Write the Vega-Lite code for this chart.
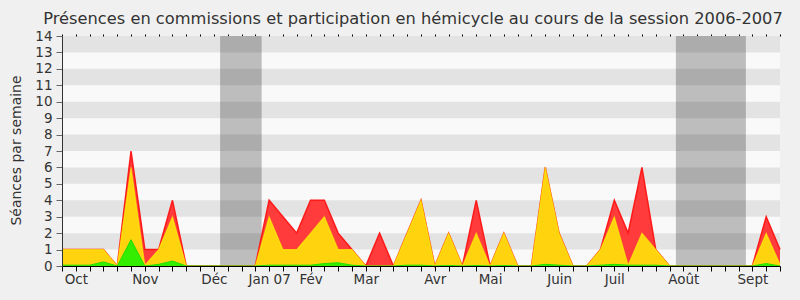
{
  "$schema": "https://vega.github.io/schema/vega-lite/v6.json",
  "width": 718,
  "height": 230,
  "autosize": {"type": "none"},
  "padding": {"left": 62, "top": 36, "right": 20, "bottom": 34},
  "background": "#f0f0f0",
  "config": {
    "view": {"fill": "#f9f9f9", "stroke": null},
    "font": "DejaVu Sans"
  },
  "title": {
    "text": "Présences en commissions et participation en hémicycle au cours de la session 2006-2007",
    "font": "DejaVu Sans",
    "fontSize": 16.25,
    "fontWeight": "normal",
    "color": "#333333",
    "anchor": "middle",
    "dx": -8,
    "offset": 2
  },
  "datasets": {
    "weeks": [
      {"w": 0, "r": 1, "y": 1, "g": 0.05},
      {"w": 1, "r": 1, "y": 1, "g": 0.05},
      {"w": 2, "r": 1, "y": 1, "g": 0.05},
      {"w": 3, "r": 1, "y": 1, "g": 0.25},
      {"w": 4, "r": 0, "y": 0, "g": 0},
      {"w": 5, "r": 7, "y": 6, "g": 1.6},
      {"w": 6, "r": 1, "y": 0.05, "g": 0},
      {"w": 7, "r": 1, "y": 1, "g": 0.1},
      {"w": 8, "r": 4, "y": 3, "g": 0.3},
      {"w": 9, "r": 0, "y": 0, "g": 0},
      {"w": 10, "r": 0, "y": 0, "g": 0},
      {"w": 11, "r": 0, "y": 0, "g": 0},
      {"w": 12, "r": 0, "y": 0, "g": 0},
      {"w": 13, "r": 0, "y": 0, "g": 0},
      {"w": 14, "r": 0, "y": 0, "g": 0},
      {"w": 15, "r": 4, "y": 3, "g": 0.05},
      {"w": 16, "r": 3, "y": 1, "g": 0.05},
      {"w": 17, "r": 2, "y": 1, "g": 0.05},
      {"w": 18, "r": 4, "y": 2, "g": 0.05},
      {"w": 19, "r": 4, "y": 3, "g": 0.15},
      {"w": 20, "r": 2, "y": 1, "g": 0.2},
      {"w": 21, "r": 1, "y": 1, "g": 0.05},
      {"w": 22, "r": 0, "y": 0, "g": 0},
      {"w": 23, "r": 2, "y": 0, "g": 0},
      {"w": 24, "r": 0, "y": 0, "g": 0},
      {"w": 25, "r": 2, "y": 2, "g": 0.05},
      {"w": 26, "r": 4, "y": 4, "g": 0.05},
      {"w": 27, "r": 0, "y": 0, "g": 0},
      {"w": 28, "r": 2, "y": 2, "g": 0.03},
      {"w": 29, "r": 0, "y": 0, "g": 0},
      {"w": 30, "r": 4, "y": 2, "g": 0.03},
      {"w": 31, "r": 0, "y": 0, "g": 0},
      {"w": 32, "r": 2, "y": 2, "g": 0.03},
      {"w": 33, "r": 0, "y": 0, "g": 0},
      {"w": 34, "r": 0, "y": 0, "g": 0},
      {"w": 35, "r": 6, "y": 6, "g": 0.1},
      {"w": 36, "r": 2, "y": 2, "g": 0.05},
      {"w": 37, "r": 0, "y": 0, "g": 0},
      {"w": 38, "r": 0, "y": 0, "g": 0},
      {"w": 39, "r": 1, "y": 1, "g": 0.05},
      {"w": 40, "r": 4, "y": 3, "g": 0.1},
      {"w": 41, "r": 2, "y": 0.05, "g": 0.05},
      {"w": 42, "r": 6, "y": 2, "g": 0.05},
      {"w": 43, "r": 1, "y": 1, "g": 0.05},
      {"w": 44, "r": 0, "y": 0, "g": 0},
      {"w": 45, "r": 0, "y": 0, "g": 0},
      {"w": 46, "r": 0, "y": 0, "g": 0},
      {"w": 47, "r": 0, "y": 0, "g": 0},
      {"w": 48, "r": 0, "y": 0, "g": 0},
      {"w": 49, "r": 0, "y": 0, "g": 0},
      {"w": 50, "r": 0, "y": 0, "g": 0},
      {"w": 51, "r": 3, "y": 2, "g": 0.15},
      {"w": 52, "r": 1, "y": 0.1, "g": 0}
    ],
    "vacances": [
      {"x0": 11.45, "x1": 14.46},
      {"x0": 44.46, "x1": 49.53}
    ],
    "bandes": [
      {"lo": 1, "hi": 2},
      {"lo": 3, "hi": 4},
      {"lo": 5, "hi": 6},
      {"lo": 7, "hi": 8},
      {"lo": 9, "hi": 10},
      {"lo": 11, "hi": 12},
      {"lo": 13, "hi": 14}
    ]
  },
  "resolve": {"axis": {"x": "independent", "y": "independent"}},
  "layer": [
    {
      "data": {"name": "vacances"},
      "mark": {"type": "rect", "color": "#bdbdbd"},
      "encoding": {
        "x": {
          "field": "x0", "type": "quantitative",
          "scale": {"domain": [0, 52], "nice": false, "zero": false},
          "axis": null
        },
        "x2": {"field": "x1"}
      }
    },
    {
      "data": {"name": "bandes"},
      "mark": {"type": "rect", "color": "#000000", "opacity": 0.085},
      "encoding": {
        "y": {
          "field": "lo", "type": "quantitative",
          "scale": {"domain": [0, 14], "nice": false, "zero": true},
          "axis": null
        },
        "y2": {"field": "hi"}
      }
    },
    {
      "data": {"name": "weeks"},
      "mark": {"type": "area", "color": "#ff3b3b", "opacity": 1, "interpolate": "linear", "line": {"color": "#ff1a1a", "strokeWidth": 1.5}},
      "encoding": {
        "x": {"field": "w", "type": "quantitative", "scale": {"domain": [0, 52], "nice": false, "zero": false}, "axis": null},
        "y": {"field": "r", "type": "quantitative", "scale": {"domain": [0, 14], "nice": false, "zero": true}, "axis": null}
      }
    },
    {
      "data": {"name": "weeks"},
      "mark": {"type": "area", "color": "#ffd40f", "opacity": 1, "interpolate": "linear", "line": {"color": "#ffff00", "strokeWidth": 1.2, "opacity": 0.55}},
      "encoding": {
        "x": {
          "field": "w", "type": "quantitative",
          "scale": {"domain": [0, 52], "nice": false, "zero": false},
          "axis": {
            "orient": "top",
            "values": [0,1,2,3,4,5,6,7,8,9,10,11,12,13,14,15,16,17,18,19,20,21,22,23,24,25,26,27,28,29,30,31,32,33,34,35,36,37,38,39,40,41,42,43,44,45,46,47,48,49,50,51,52],
            "labels": false,
            "domain": false,
            "tickSize": 2,
            "tickColor": "#000000",
            "grid": false,
            "title": null
          }
        },
        "y": {"field": "y", "type": "quantitative", "scale": {"domain": [0, 14], "nice": false, "zero": true}, "axis": null}
      }
    },
    {
      "data": {"name": "weeks"},
      "mark": {"type": "area", "color": "#33ee00", "opacity": 1, "interpolate": "linear", "line": {"color": "#22dd00", "strokeWidth": 1}},
      "encoding": {
        "x": {
          "field": "w", "type": "quantitative",
          "scale": {"domain": [0, 52], "nice": false, "zero": false},
          "axis": {
            "orient": "bottom",
            "values": [0,1,2,3,4,5,6,7,8,9,10,11,12,13,14,15,16,17,18,19,20,21,22,23,24,25,26,27,28,29,30,31,32,33,34,35,36,37,38,39,40,41,42,43,44,45,46,47,48,49,50,51,52],
            "labelExpr": "datum.value == 1 ? 'Oct' : datum.value == 6 ? 'Nov' : datum.value == 11 ? 'Déc' : datum.value == 15 ? 'Jan 07' : datum.value == 18 ? 'Fév' : datum.value == 22 ? 'Mar' : datum.value == 27 ? 'Avr' : datum.value == 31 ? 'Mai' : datum.value == 36 ? 'Juin' : datum.value == 40 ? 'Juil' : datum.value == 45 ? 'Août' : datum.value == 50 ? 'Sept' : ''",
            "tickSize": 5,
            "tickColor": "#000000",
            "domainColor": "#000000",
            "grid": false,
            "title": null,
            "zindex": 1,
            "labelFont": "DejaVu Sans",
            "labelFontSize": 13.5,
            "labelColor": "#333333",
            "labelPadding": 1,
            "labelFlush": false,
            "labelOverlap": false,
            "labelAlign": "center"
          }
        },
        "y": {
          "field": "g", "type": "quantitative",
          "scale": {"domain": [0, 14], "nice": false, "zero": true},
          "axis": {
            "orient": "left",
            "values": [0,1,2,3,4,5,6,7,8,9,10,11,12,13,14],
            "grid": false,
            "tickSize": 6,
            "tickColor": "#666666",
            "domainColor": "#333333",
            "zindex": 1,
            "labelFont": "DejaVu Sans",
            "labelFontSize": 13.5,
            "labelColor": "#333333",
            "labelPadding": 4,
            "title": "Séances par semaine",
            "titleFont": "DejaVu Sans",
            "titleFontSize": 14,
            "titleFontWeight": "normal",
            "titleColor": "#333333",
            "titleAngle": -90,
            "titleAlign": "center",
            "titleBaseline": "middle",
            "titleX": -46,
            "titleY": 114
          }
        }
      }
    }
  ]
}
